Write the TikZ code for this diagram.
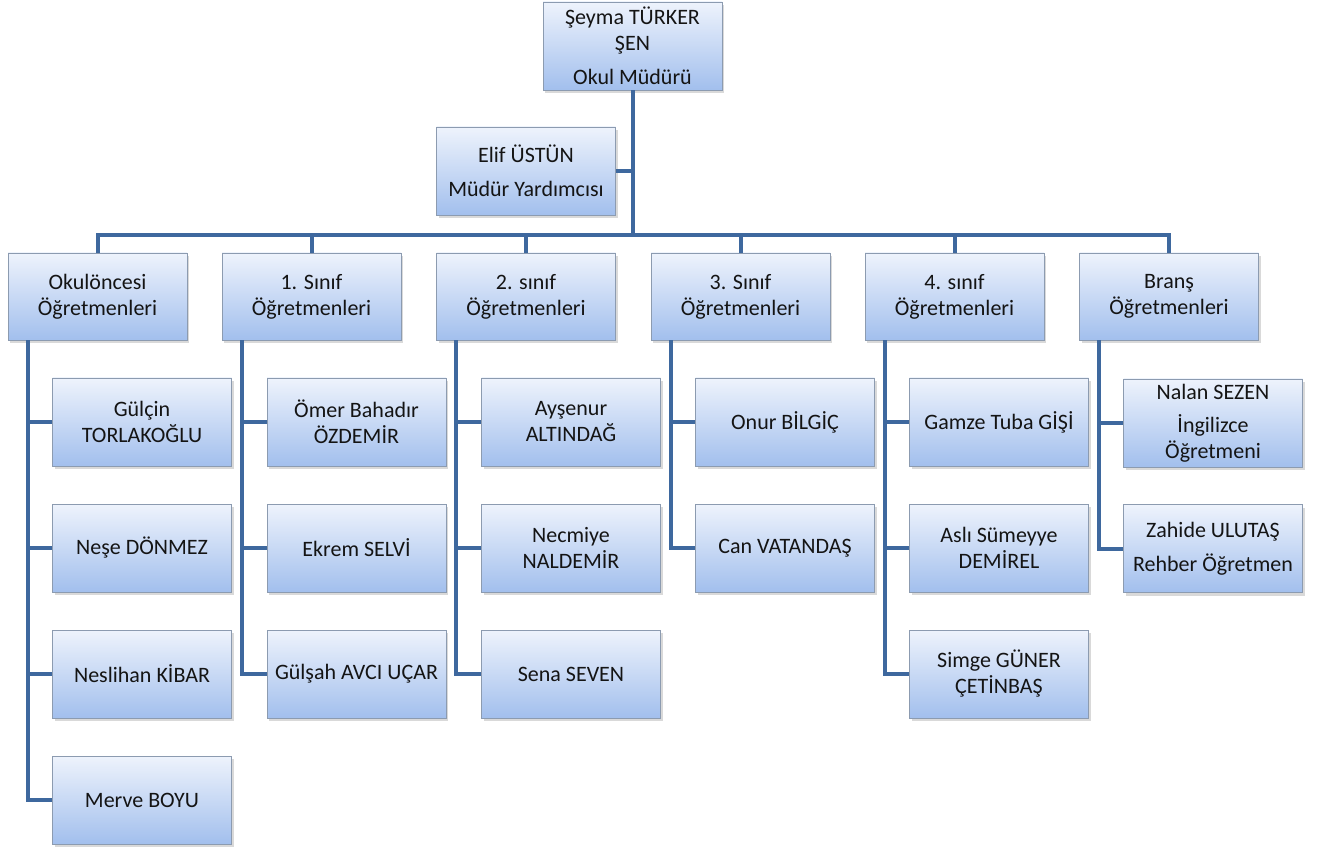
\documentclass[tikz,border=0pt]{standalone}
\usepackage{fontspec}
\setmainfont{Carlito}
\usetikzlibrary{shadows}
\definecolor{linecol}{RGB}{62,104,158}
\definecolor{boxtop}{RGB}{238,243,252}
\definecolor{boxbot}{RGB}{162,191,237}
\definecolor{boxline}{RGB}{140,155,176}
\definecolor{txt}{RGB}{20,20,20}
\tikzset{
  orgbox/.style={draw=boxline, line width=0.8pt, top color=boxtop, bottom color=boxbot,
    minimum width=179pt, minimum height=88pt, inner sep=1pt, align=center,
    text=txt, font=\fontsize{22}{26}\selectfont,
    drop shadow={shadow xshift=2pt, shadow yshift=-3pt, opacity=0.3}},
  link/.style={draw=linecol, line width=4pt}
}
\begin{document}
\begin{tikzpicture}[x=1pt,y=-1pt]
\useasboundingbox (0,0) rectangle (1326,850);
% top
\node[orgbox] (top) at (632.5,46) {Şeyma TÜRKER\\ŞEN\\[8pt]Okul Müdürü};
\node[orgbox] (elif) at (526,171) {Elif ÜSTÜN\\[8pt]Müdür Yardımcısı};
\coordinate (bus) at (632.5,235);
% level 2
\node[orgbox, minimum height=87pt] (a) at (97.5,296.5) {Okulöncesi\\Öğretmenleri};
\node[orgbox, minimum height=87pt] (b) at (311.5,296.5) {1. Sınıf\\Öğretmenleri};
\node[orgbox, minimum height=87pt] (c) at (526,296.5) {2. sınıf\\Öğretmenleri};
\node[orgbox, minimum height=87pt] (d) at (740.5,296.5) {3. Sınıf\\Öğretmenleri};
\node[orgbox, minimum height=87pt] (e) at (954.5,296.5) {4. sınıf\\Öğretmenleri};
\node[orgbox, minimum height=87pt] (f) at (1169,296.5) {Branş\\Öğretmenleri};
% children
\node[orgbox] (a1) at (142,422) {Gülçin\\TORLAKOĞLU};
\node[orgbox] (a2) at (142,548) {Neşe DÖNMEZ};
\node[orgbox] (a3) at (142,674) {Neslihan KİBAR};
\node[orgbox] (a4) at (142,800) {Merve BOYU};
\node[orgbox] (b1) at (356.5,422) {Ömer Bahadır\\ÖZDEMİR};
\node[orgbox] (b2) at (356.5,548) {Ekrem SELVİ};
\node[orgbox] (b3) at (356.5,674) {Gülşah AVCI UÇAR};
\node[orgbox] (c1) at (571,422) {Ayşenur\\ALTINDAĞ};
\node[orgbox] (c2) at (571,548) {Necmiye\\NALDEMİR};
\node[orgbox] (c3) at (571,674) {Sena SEVEN};
\node[orgbox] (d1) at (785,422) {Onur BİLGİÇ};
\node[orgbox] (d2) at (785,548) {Can VATANDAŞ};
\node[orgbox] (e1) at (999,422) {Gamze Tuba GİŞİ};
\node[orgbox] (e2) at (999,548) {Aslı Sümeyye\\DEMİREL};
\node[orgbox] (e3) at (999,674) {Simge GÜNER\\ÇETİNBAŞ};
\node[orgbox] (f1) at (1213,423) {Nalan SEZEN\\[7pt]İngilizce\\Öğretmeni};
\node[orgbox] (f2) at (1213,548.5) {Zahide ULUTAŞ\\[8pt]Rehber Öğretmen};
% connectors
\draw[link] (top.south) -- (bus);
\draw[link] (elif.east) -- (elif.east -| bus);
\foreach \n in {a,b,c,d,e,f} {\draw[link] (\n.north) |- (bus);}
\foreach \p/\k in {a/a1,a/a2,a/a3,a/a4,b/b1,b/b2,b/b3,c/c1,c/c2,c/c3,d/d1,d/d2,e/e1,e/e2,e/e3,f/f1,f/f2}
  {\draw[link] ([xshift=20pt]\p.south west) |- (\k.west);}
\end{tikzpicture}
\end{document}
